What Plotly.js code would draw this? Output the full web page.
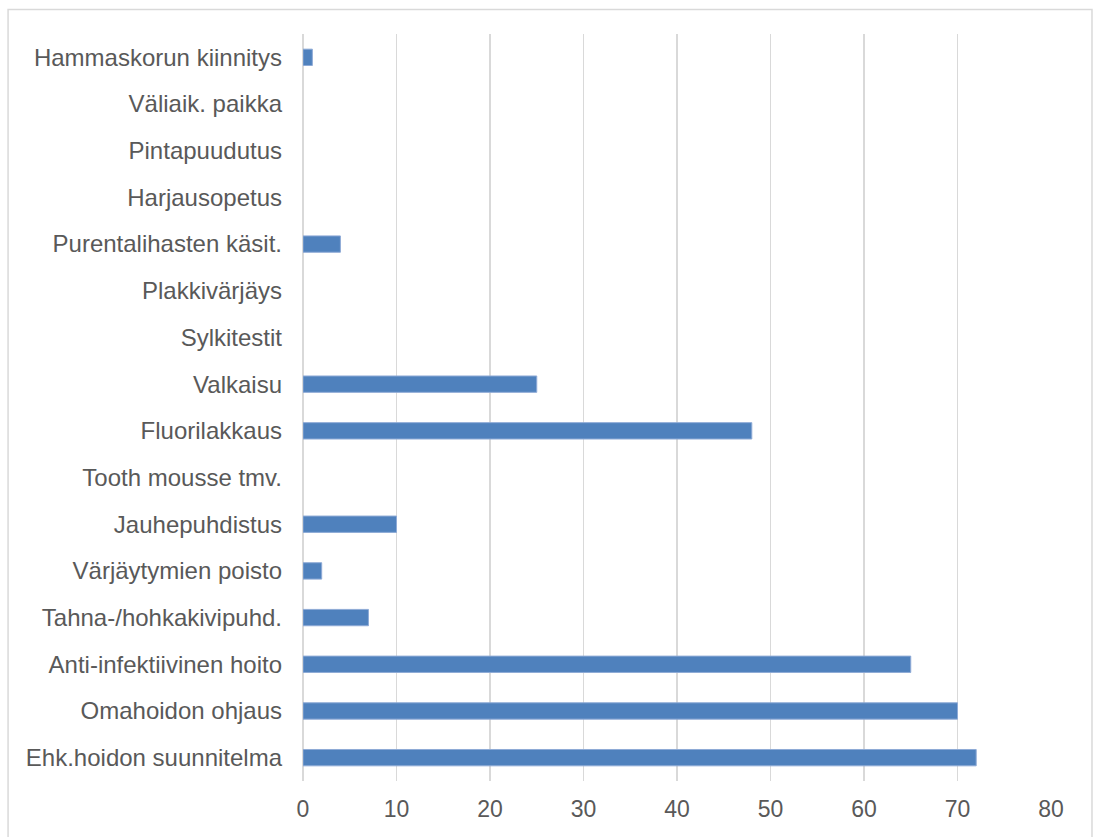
<!DOCTYPE html>
<html>
<head>
<meta charset="utf-8">
<script src="https://cdn.plot.ly/plotly-3.0.1.min.js"></script>
<style>
html,body{margin:0;padding:0;background:#fff;}
#chart{width:1094px;height:837px;}
</style>
</head>
<body>
<div id="chart"></div>
<script>
// Categories listed top to bottom as in the chart
const categories = [
  "Hammaskorun kiinnitys",
  "Väliaik. paikka",
  "Pintapuudutus",
  "Harjausopetus",
  "Purentalihasten käsit.",
  "Plakkivärjäys",
  "Sylkitestit",
  "Valkaisu",
  "Fluorilakkaus",
  "Tooth mousse tmv.",
  "Jauhepuhdistus",
  "Värjäytymien poisto",
  "Tahna-/hohkakivipuhd.",
  "Anti-infektiivinen hoito",
  "Omahoidon ohjaus",
  "Ehk.hoidon suunnitelma"
];
const values = [1, 0, 0, 0, 4, 0, 0, 25, 48, 0, 10, 2, 7, 65, 70, 72];
const xTicks = [0, 10, 20, 30, 40, 50, 60, 70, 80];

const trace = {
  type: 'bar',
  orientation: 'h',
  y: categories,
  x: values,
  marker: {
    color: '#4F81BD',
    line: {color: '#8EAAD6', width: values.map(v => v > 0 ? 1 : 0)}
  },
  hoverinfo: 'x+y'
};

const layout = {
  width: 1094,
  height: 837,
  margin: {l: 303, r: 43, t: 34, b: 56},
  paper_bgcolor: '#ffffff',
  plot_bgcolor: '#ffffff',
  bargap: 0.65,
  showlegend: false,
  font: {family: 'Liberation Sans, Arial, sans-serif', color: '#595959', size: 23},
  xaxis: {
    range: [0, 80],
    tickvals: xTicks,
    ticktext: xTicks.map(String),
    showgrid: true,
    gridcolor: '#D9D9D9',
    gridwidth: 1.5,
    zeroline: true,
    zerolinecolor: '#D9D9D9',
    zerolinewidth: 1.5,
    showline: false,
    ticks: '',
    ticklabelstandoff: 12,
    tickfont: {size: 23, color: '#595959'},
    fixedrange: true
  },
  yaxis: {
    type: 'category',
    autorange: 'reversed',
    showgrid: false,
    zeroline: false,
    showline: false,
    ticks: '',
    ticklabelstandoff: 20,
    tickfont: {size: 24, color: '#595959'},
    fixedrange: true
  },
  shapes: [{
    type: 'rect',
    xref: 'paper', yref: 'paper',
    x0: -0.3943, x1: 1.0548,
    y0: -0.2, y1: 1.0327,
    line: {color: '#D9D9D9', width: 1.5},
    fillcolor: 'rgba(0,0,0,0)',
    layer: 'below'
  }]
};

Plotly.newPlot('chart', [trace], layout, {displayModeBar: false, staticPlot: true});
</script>
</body>
</html>
